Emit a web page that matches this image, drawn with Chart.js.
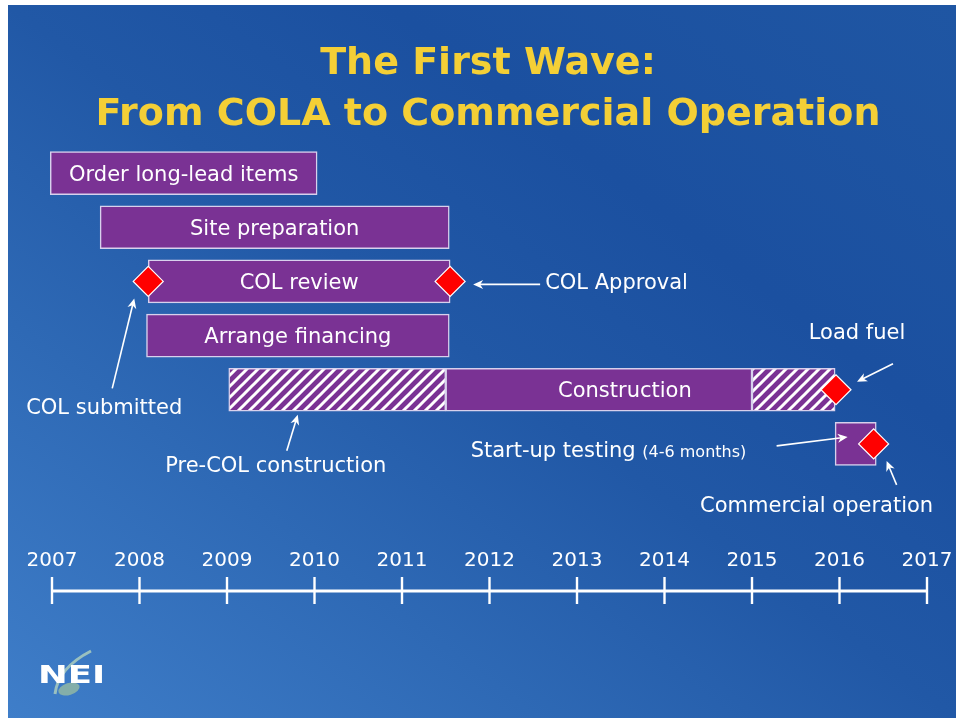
<!DOCTYPE html>
<html>
<head>
<meta charset="utf-8">
<title>The First Wave: From COLA to Commercial Operation</title>
<script src="https://cdn.jsdelivr.net/npm/chart.js@4.4.1/dist/chart.umd.min.js"></script>
<style>
  html, body { margin:0; padding:0; background:#fff; width:957px; height:719px; overflow:hidden; }
  #slide {
    position:absolute; left:8px; top:5px; right:1px; bottom:1px;
    background: linear-gradient(to top right, #3f7ec9 0%, #2e69b5 28%, #2158a6 50%, #1b50a0 70%, #1f56a3 100%);
  }
  #chart { position:absolute; left:0; top:0; }
</style>
</head>
<body>
<div id="slide"></div>
<canvas id="chart" width="957" height="719"></canvas>
<script>
// ------------------------
// DATA
// ------------------------
const years = [2007, 2008, 2009, 2010, 2011, 2012, 2013, 2014, 2015, 2016, 2017];

const rows = ['Order long-lead items', 'Site preparation', 'COL review', 'Arrange financing', 'Construction', 'Start-up testing'];
const taskStart = [2006.98, 2007.55, 2008.1, 2008.08, 2011.5, 2015.95];
const taskEnd   = [2010.03, 2011.54, 2011.55, 2011.54, 2015.0, 2016.42];

// hatched (pre-COL / finishing) construction
const hatchRow   = ['Construction', 'Construction'];
const hatchStart = [2009.02, 2015.0];
const hatchEnd   = [2011.5, 2015.95];

// milestones (red diamonds)
const milestoneNames = ['COL submitted', 'COL Approval', 'Load fuel', 'Commercial operation'];
const milestoneRow   = ['COL review', 'COL review', 'Construction', 'Start-up testing'];
const milestoneYear  = [2008.1, 2011.55, 2015.96, 2016.39];

// ------------------------
// STYLE
// ------------------------
const FONT = '"DejaVu Sans", Verdana, sans-serif';
const PURPLE = '#7a3294';
const BAR_EDGE = 'rgba(225,215,240,0.95)';
const YELLOW = '#f4cf36';

function hatchPattern(){
  const s = 11;
  const c = document.createElement('canvas');
  c.width = s; c.height = s;
  const g = c.getContext('2d');
  g.fillStyle = PURPLE;
  g.fillRect(0, 0, s, s);
  g.strokeStyle = '#ffffff';
  g.lineWidth = 3;
  g.beginPath();
  g.moveTo(-2, s + 2); g.lineTo(s + 2, -2);
  g.moveTo(-2, 2); g.lineTo(2, -2);
  g.moveTo(s - 2, s + 2); g.lineTo(s + 2, s - 2);
  g.stroke();
  return g.createPattern(c, 'repeat');
}

function arrow(ctx, x1, y1, x2, y2){
  const a = Math.atan2(y2 - y1, x2 - x1);
  const ca = Math.cos(a), sa = Math.sin(a);
  ctx.beginPath();
  ctx.moveTo(x1, y1);
  ctx.lineTo(x2 - 6 * ca, y2 - 6 * sa);
  ctx.stroke();
  ctx.beginPath();
  ctx.moveTo(x2, y2);
  ctx.lineTo(x2 - 10 * ca + 4.5 * sa, y2 - 10 * sa - 4.5 * ca);
  ctx.lineTo(x2 - 7 * ca, y2 - 7 * sa);
  ctx.lineTo(x2 - 10 * ca - 4.5 * sa, y2 - 10 * sa + 4.5 * ca);
  ctx.closePath();
  ctx.fill();
}

// annotations: text + arrow, placed relative to a milestone / bar anchor (pixel offsets)
const NOTES = [
  { anchor: 'COL Approval', text: 'COL Approval', tx: 95, ty: 2, align: 'left', ax1: 90, ay1: 3, ax2: 23, ay2: 3 },
  { anchor: 'Load fuel', text: 'Load fuel', tx: 21, ty: -56, align: 'center', ax1: 57, ay1: -26, ax2: 21, ay2: -8 },
  { anchor: 'COL submitted', text: 'COL submitted', tx: -44, ty: 127, align: 'center', ax1: -36, ay1: 107, ax2: -14, ay2: 17 },
  { anchor: 'Commercial operation', text: 'Commercial operation', tx: -57, ty: 63, align: 'center', ax1: 23, ay1: 41, ax2: 13, ay2: 17 },
  { anchor: 'Commercial operation', text: 'Start-up testing ', small: '(4-6 months)', tx: -403, ty: 8, align: 'left', ax1: -97, ay1: 2, ax2: -26, ay2: -7 },
  { anchor: 'pre-COL', text: 'Pre-COL construction', tx: 47, ty: 77, align: 'center', ax1: 58, ay1: 61, ax2: 69, ay2: 25 }
];

const slidePlugin = {
  id: 'slideDecor',
  afterDatasetsDraw(chart){
    const ctx = chart.ctx;
    // labels inside bars
    const meta = chart.getDatasetMeta(0);
    ctx.save();
    ctx.font = '21px ' + FONT;
    ctx.fillStyle = '#ffffff';
    ctx.textAlign = 'center';
    ctx.textBaseline = 'middle';
    meta.data.forEach((el, i) => {
      const p = el.getProps(['x', 'y', 'base'], true);
      const w = Math.abs(p.x - p.base);
      const text = rows[i];
      if (ctx.measureText(text).width > w - 8) return;
      const shift = text === 'Construction' ? 26 : 0;
      ctx.fillText(text, (p.x + p.base) / 2 + shift, p.y + 2);
    });
    ctx.restore();
  },
  afterDraw(chart){
    const ctx = chart.ctx;
    const xs = chart.scales.x, ys = chart.scales.y;
    const area = chart.chartArea;

    // title
    ctx.save();
    ctx.fillStyle = YELLOW;
    ctx.textAlign = 'center';
    ctx.textBaseline = 'alphabetic';
    ctx.font = 'bold 38px ' + FONT;
    ctx.fillText('The First Wave:', 488, 74);
    ctx.fillText('From COLA to Commercial Operation', 488, 125);
    ctx.restore();

    // annotations
    const anchors = {};
    milestoneNames.forEach((n, i) => {
      anchors[n] = { x: xs.getPixelForValue(milestoneYear[i]), y: ys.getPixelForValue(rows.indexOf(milestoneRow[i])) };
    });
    anchors['pre-COL'] = { x: xs.getPixelForValue(hatchStart[0]), y: ys.getPixelForValue(rows.indexOf(hatchRow[0])) };

    ctx.save();
    ctx.strokeStyle = '#ffffff';
    ctx.fillStyle = '#ffffff';
    ctx.lineWidth = 1.6;
    ctx.textBaseline = 'middle';
    NOTES.forEach(n => {
      const a = anchors[n.anchor];
      ctx.font = '21px ' + FONT;
      ctx.textAlign = n.align;
      ctx.fillText(n.text, a.x + n.tx, a.y + n.ty);
      if (n.small) {
        const w = ctx.measureText(n.text).width;
        ctx.font = '16px ' + FONT;
        ctx.textAlign = 'left';
        ctx.fillText(n.small, a.x + n.tx + w, a.y + n.ty + 1);
      }
      arrow(ctx, a.x + n.ax1, a.y + n.ay1, a.x + n.ax2, a.y + n.ay2);
    });
    ctx.restore();

    // timeline
    const lineY = area.bottom + 120;
    const x0 = xs.getPixelForValue(years[0]);
    const x1 = xs.getPixelForValue(years[years.length - 1]);
    ctx.save();
    ctx.strokeStyle = '#ffffff';
    ctx.lineWidth = 3;
    ctx.beginPath();
    ctx.moveTo(x0, lineY);
    ctx.lineTo(x1, lineY);
    ctx.stroke();
    ctx.lineWidth = 2.4;
    ctx.fillStyle = '#ffffff';
    ctx.font = '20px ' + FONT;
    ctx.textAlign = 'center';
    ctx.textBaseline = 'alphabetic';
    years.forEach(y => {
      const x = xs.getPixelForValue(y);
      ctx.beginPath();
      ctx.moveTo(x, lineY - 14);
      ctx.lineTo(x, lineY + 13);
      ctx.stroke();
      ctx.fillText(String(y), x, lineY - 25);
    });
    ctx.restore();

    // NEI logo
    ctx.save();
    ctx.strokeStyle = 'rgba(170,205,190,0.85)';
    ctx.lineWidth = 3;
    ctx.beginPath();
    ctx.moveTo(91, 651);
    ctx.quadraticCurveTo(58, 668, 55, 694);
    ctx.stroke();
    ctx.fillStyle = 'rgba(140,180,165,0.9)';
    ctx.beginPath();
    ctx.ellipse(69, 689, 11, 6, -0.3, 0, Math.PI * 2);
    ctx.fill();
    ctx.fillStyle = '#ffffff';
    ctx.font = 'bold 25px ' + FONT;
    ctx.textAlign = 'left';
    ctx.textBaseline = 'alphabetic';
    ctx.translate(38, 683);
    ctx.scale(1.42, 1);
    ctx.fillText('NEI', 0, 0);
    ctx.restore();
  }
};

// ------------------------
// CHART
// ------------------------
const hatch = hatchPattern();

new Chart(document.getElementById('chart'), {
  type: 'bar',
  data: {
    labels: rows,
    datasets: [
      {
        label: 'Activities',
        data: taskStart.map((s, i) => [s, taskEnd[i]]),
        backgroundColor: PURPLE,
        borderColor: BAR_EDGE,
        borderWidth: 1.5,
        borderSkipped: false,
        barThickness: 43,
        grouped: false,
        clip: false,
        order: 2
      },
      {
        label: 'Pre-COL construction',
        data: hatchStart.map((s, i) => ({ x: [s, hatchEnd[i]], y: hatchRow[i] })),
        backgroundColor: hatch,
        borderColor: BAR_EDGE,
        borderWidth: 1.5,
        borderSkipped: false,
        barThickness: 43,
        grouped: false,
        clip: false,
        order: 1
      },
      {
        type: 'line',
        label: 'Milestones',
        data: milestoneYear.map((x, i) => ({ x, y: milestoneRow[i] })),
        showLine: false,
        pointStyle: 'rectRot',
        pointRadius: 15,
        pointBackgroundColor: '#ff0000',
        pointBorderColor: '#ffffff',
        pointBorderWidth: 1.2,
        clip: false,
        order: 0
      }
    ]
  },
  options: {
    indexAxis: 'y',
    responsive: false,
    animation: false,
    events: [],
    layout: { padding: { left: 52, right: 30, top: 146, bottom: 248 } },
    scales: {
      x: { type: 'linear', min: years[0], max: years[years.length - 1], display: false },
      y: { type: 'category', labels: rows, display: false }
    },
    plugins: {
      legend: { display: false },
      title: { display: false },
      tooltip: { enabled: false }
    }
  },
  plugins: [slidePlugin]
});
</script>
</body>
</html>
